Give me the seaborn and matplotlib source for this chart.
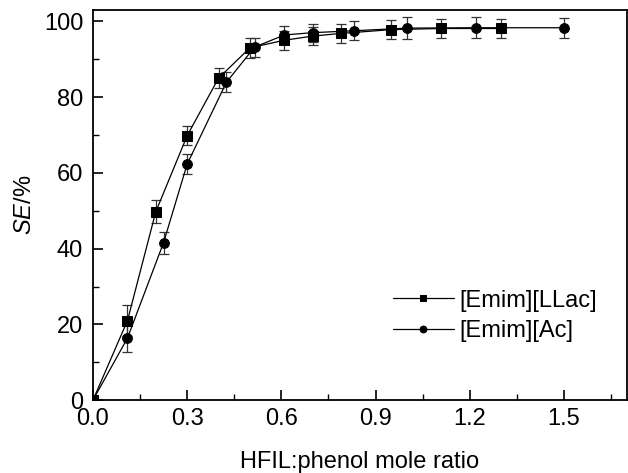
import numpy as np
import pandas as pd
import matplotlib
matplotlib.use("Agg")
import matplotlib.pyplot as plt
import seaborn as sns
from matplotlib.ticker import MultipleLocator

# Data
llac_x = [0.0, 0.11, 0.2, 0.3, 0.4, 0.5, 0.61, 0.7, 0.79, 0.95, 1.11, 1.3]
llac_y = [0.0, 21.0, 49.7, 69.8, 85.0, 93.0, 95.0, 96.1, 96.8, 97.8, 98.1, 98.1]
llac_err = [0.0, 4.1, 3.0, 2.5, 2.6, 2.6, 2.5, 2.3, 2.5, 2.5, 2.5, 2.6]

ac_x = [0.0, 0.11, 0.225, 0.3, 0.425, 0.515, 0.61, 0.7, 0.83, 1.0, 1.22, 1.5]
ac_y = [0.0, 16.4, 41.6, 62.3, 83.9, 93.2, 96.4, 97.0, 97.5, 98.2, 98.3, 98.3]
ac_err = [0.0, 3.7, 2.9, 2.6, 2.6, 2.5, 2.4, 2.4, 2.5, 3.0, 2.8, 2.6]

labels = ['[Emim][LLac]', '[Emim][Ac]']

df = pd.concat([
    pd.DataFrame({'x': llac_x, 'y': llac_y, 'err': llac_err, 'IL': labels[0]}),
    pd.DataFrame({'x': ac_x, 'y': ac_y, 'err': ac_err, 'IL': labels[1]}),
], ignore_index=True)

sns.set_style("ticks")
plt.rcParams['font.family'] = ['Liberation Sans', 'DejaVu Sans']
plt.rcParams['mathtext.fontset'] = 'custom'
plt.rcParams['mathtext.it'] = 'Liberation Sans:italic'
plt.rcParams['mathtext.rm'] = 'Liberation Sans'
plt.rcParams['text.color'] = 'black'
plt.rcParams['axes.labelcolor'] = 'black'
plt.rcParams['xtick.color'] = 'black'
plt.rcParams['ytick.color'] = 'black'

fig = plt.figure(figsize=(6.28, 4.73), dpi=100)
ax = fig.add_axes([0.148, 0.154, 0.85, 0.825])

# error bars first
for lab in labels:
    d = df[df['IL'] == lab]
    ax.errorbar(d['x'], d['y'], yerr=d['err'], fmt='none', ecolor='#333333',
                elinewidth=0.9, capsize=3.5, capthick=0.9, zorder=1)

sns.lineplot(data=df, x='x', y='y', hue='IL', style='IL',
             markers={labels[0]: 's', labels[1]: 'o'}, dashes=False,
             palette={labels[0]: 'black', labels[1]: 'black'},
             markersize=7, linewidth=0.9, markeredgecolor='black',
             sort=False, ax=ax, zorder=2)

ax.set_xlim(0, 1.7)
ax.set_ylim(0, 103)
ax.xaxis.set_major_locator(MultipleLocator(0.3))
ax.xaxis.set_minor_locator(MultipleLocator(0.15))
ax.yaxis.set_major_locator(MultipleLocator(20))
ax.yaxis.set_minor_locator(MultipleLocator(10))
ax.tick_params(which='major', direction='in', length=7, width=1.2, labelsize=17,
               top=False, right=False, colors='black')
ax.tick_params(axis='x', which='major', pad=6)
ax.tick_params(axis='y', which='major', pad=7)
ax.tick_params(which='minor', direction='in', length=4, width=1.0,
               top=False, right=False, colors='black')
for s in ax.spines.values():
    s.set_linewidth(1.3)
    s.set_color('black')

ax.set_xlabel('HFIL:phenol mole ratio', fontsize=17, labelpad=15)
ax.set_ylabel(r'$SE$/%', fontsize=17, labelpad=6)

leg = ax.legend(loc='lower right', bbox_to_anchor=(0.985, 0.095), frameon=False,
                fontsize=17, handlelength=2.6, handletextpad=0.25,
                labelspacing=0.35, markerscale=0.7, title=None)
for t in leg.get_texts():
    t.set_color('black')

fig.savefig('out.png', dpi=100)
